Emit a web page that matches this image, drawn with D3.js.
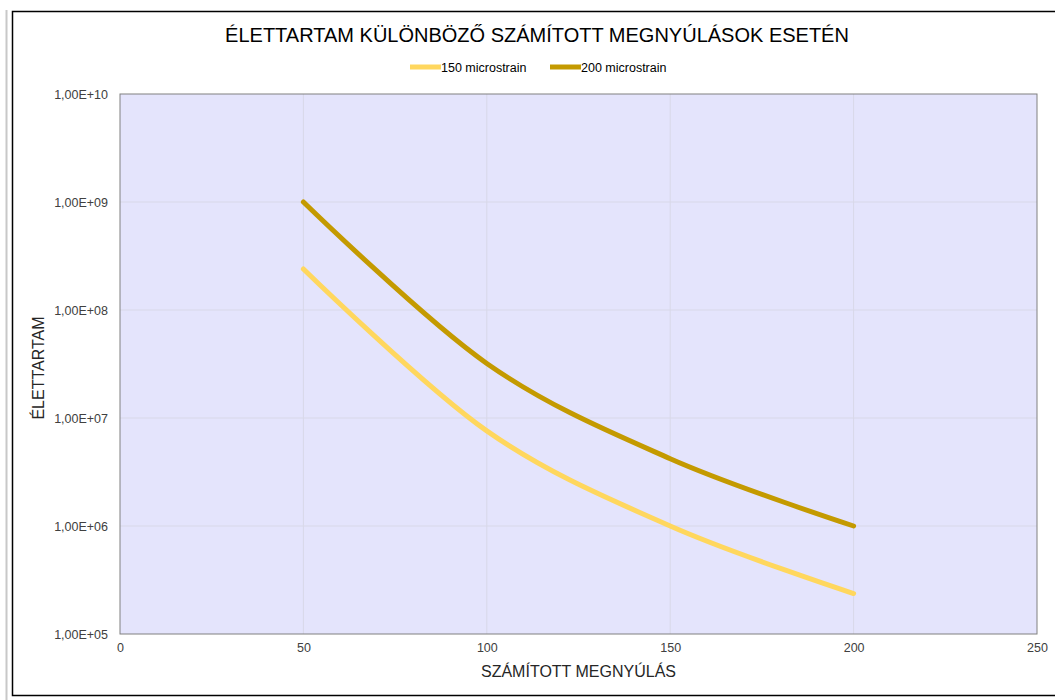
<!DOCTYPE html>
<html><head><meta charset="utf-8">
<script src="https://cdn.jsdelivr.net/npm/d3@7"></script>
<style>body{margin:0;background:#fff;font-family:"Liberation Sans",Arial,sans-serif}</style>
</head><body><svg id="c" width="1055" height="700"></svg>
<script>
const xValues = [50, 100, 150, 200];
const series150 = [2.4e8, 7.6e6, 1.0e6, 2.37e5];
const series200 = [1.0e9, 3.2e7, 4.2e6, 1.0e6];
const seriesNames = ["150 microstrain", "200 microstrain"];
const seriesColors = ["#FFD75E", "#C49A00"];
const xTicks = [0, 50, 100, 150, 200, 250];
const yTicks = [1e5, 1e6, 1e7, 1e8, 1e9, 1e10];
const titleText = "ÉLETTARTAM KÜLÖNBÖZŐ SZÁMÍTOTT MEGNYÚLÁSOK ESETÉN";
const xTitle = "SZÁMÍTOTT MEGNYÚLÁS";
const yTitle = "ÉLETTARTAM";

const svg = d3.select("#c");
// outer frame
svg.append("line").attr("x1",6.5).attr("x2",6.5).attr("y1",10).attr("y2",700).attr("stroke","#c8c8c8").attr("stroke-width",2);
svg.append("rect").attr("x",12.5).attr("y",11.5).attr("width",1060).attr("height",684).attr("fill","#fff").attr("stroke","#000").attr("stroke-width",1.5);

const L=120, R=1037, T=94, B=634;
const x = d3.scaleLinear().domain([0,250]).range([L,R]);
const y = d3.scaleLog().domain([1e5,1e10]).range([B,T]);

svg.append("rect").attr("x",L).attr("y",T).attr("width",R-L).attr("height",B-T).attr("fill","#E4E4FC");
// gridlines
svg.append("g").selectAll("line").data(xTicks.slice(1,-1)).join("line")
  .attr("x1",d=>x(d)).attr("x2",d=>x(d)).attr("y1",T).attr("y2",B).attr("stroke","#D8D8E8").attr("stroke-width",1);
svg.append("g").selectAll("line").data(yTicks.slice(1,-1)).join("line")
  .attr("x1",L).attr("x2",R).attr("y1",d=>y(d)).attr("y2",d=>y(d)).attr("stroke","#D8D8E8").attr("stroke-width",1);
svg.append("rect").attr("x",L).attr("y",T).attr("width",R-L).attr("height",B-T).attr("fill","none").attr("stroke","#808080").attr("stroke-width",1);

// axes
const yAxis = d3.axisLeft(y).tickValues(yTicks).tickSize(0).tickPadding(12)
  .tickFormat(d=>"1,00E+" + String(Math.round(Math.log10(d))).padStart(2,"0"));
const gy = svg.append("g").attr("transform",`translate(${L},0)`).call(yAxis);
gy.select(".domain").remove();
gy.selectAll("text").attr("font-family","Liberation Sans, Arial, sans-serif").attr("font-size",12.5).attr("fill","#404040");
const xAxis = d3.axisBottom(x).tickValues(xTicks).tickSize(0).tickPadding(9);
const gx = svg.append("g").attr("transform",`translate(0,${B})`).call(xAxis);
gx.select(".domain").remove();
gx.selectAll("text").attr("font-family","Liberation Sans, Arial, sans-serif").attr("font-size",12.5).attr("fill","#404040");

// lines
const line = d3.line().x((d,i)=>x(xValues[i])).y(d=>y(d)).curve(d3.curveCardinal.tension(0));
[series150, series200].forEach((s,i)=>{
  svg.append("path").datum(s).attr("d",line).attr("fill","none").attr("stroke",seriesColors[i])
    .attr("stroke-width",5).attr("stroke-linecap","round").attr("stroke-linejoin","round");
});

// title
svg.append("text").attr("x",537).attr("y",42).attr("text-anchor","middle").attr("font-size",20).attr("fill","#000").text(titleText);
// legend
const legX = [410, 550];
seriesNames.forEach((n,i)=>{
  svg.append("line").attr("x1",legX[i]).attr("x2",legX[i]+31).attr("y1",67).attr("y2",67).attr("stroke",seriesColors[i]).attr("stroke-width",5);
  svg.append("text").attr("x",legX[i]+31).attr("y",71.5).attr("font-size",12.5).attr("fill","#000").text(n);
});
// axis titles
svg.append("text").attr("x",(L+R)/2).attr("y",677).attr("text-anchor","middle").attr("font-size",16).attr("fill","#262626").text(xTitle);
svg.append("text").attr("transform","translate(44,368) rotate(-90)").attr("text-anchor","middle").attr("font-size",16).attr("fill","#262626").text(yTitle);
</script></body></html>
